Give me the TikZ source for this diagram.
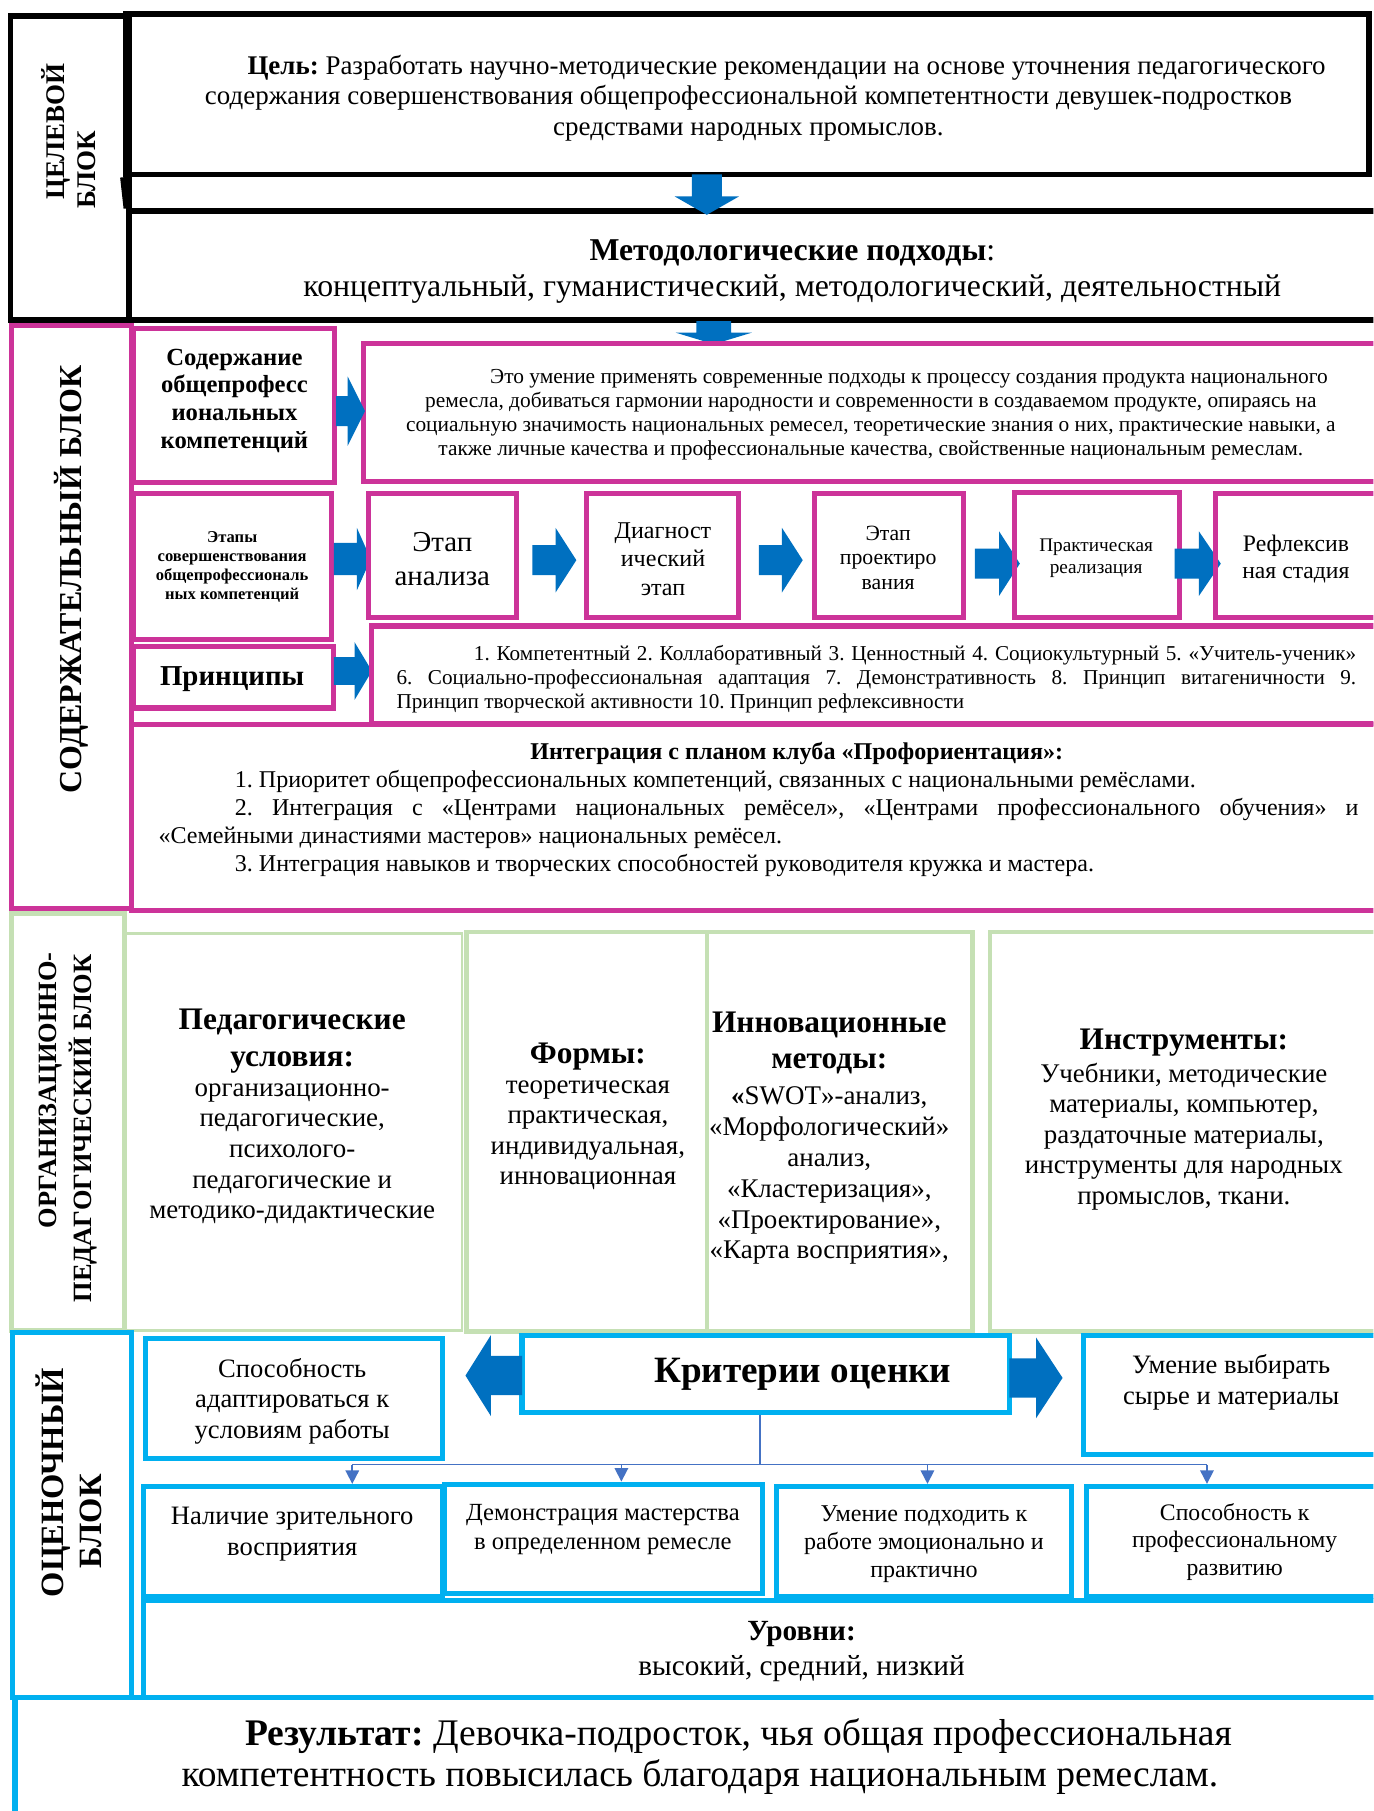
\documentclass[tikz,border=0pt]{standalone}
\usepackage{fontspec}
\setmainfont{Liberation Serif}
\usetikzlibrary{fit,arrows.meta}
\definecolor{mag}{RGB}{204,51,153}
\definecolor{grn}{RGB}{197,224,180}
\definecolor{cyn}{RGB}{0,176,240}
\definecolor{ablue}{RGB}{0,112,192}
\definecolor{cblue}{RGB}{68,114,196}
\frenchspacing
\newcommand{\uu}[1]{\dimexpr #1pt*3/5\relax}
\newcommand{\fs}[2]{\fontsize{#1}{#2}\selectfont}
% right/left block arrow: tail x, tip x, centre y, shaft half, head half, head base x
\newcommand{\harr}[6]{\fill[ablue] (#1,#3-#4) -- (#6,#3-#4) -- (#6,#3-#5) -- (#2,#3) -- (#6,#3+#5) -- (#6,#3+#4) -- (#1,#3+#4) -- cycle;}
% down block arrow: tail y, tip y, centre x, shaft half, head half, head base y
\newcommand{\varr}[6]{\fill[ablue] (#3-#4,#1) -- (#3-#4,#6) -- (#3-#5,#6) -- (#3,#2) -- (#3+#5,#6) -- (#3+#4,#6) -- (#3+#4,#1) -- cycle;}
\tikzset{
  blkbox/.style={draw=black, line width=3pt, inner sep=0pt},
  magbox/.style={draw=mag, line width=2.6pt, inner sep=0pt},
  grnbox/.style={draw=grn, line width=2.4pt, inner sep=0pt},
  grnthin/.style={draw=grn, line width=1.4pt, inner sep=0pt},
  cynbox/.style={draw=cyn, line width=2.7pt, inner sep=0pt},
  txt/.style={align=center, inner sep=0pt},
  side/.style={rotate=90, inner sep=0pt, font=\bfseries},
  conn/.style={draw=cblue, line width=0.9pt},
}
\begin{document}
\begin{tikzpicture}[x=0.6pt,y=-0.6pt]
\useasboundingbox (0,0) rectangle (1189,1568);
\clip (0,0) rectangle (1189,1568);
\fill[white] (0,0) rectangle (1189,1568);

% ===== ЦЕЛЕВОЙ БЛОК =====
\node[blkbox, fit={(9,14) (112,277)}] (tsel) {};
\node[blkbox, fit={(109,12) (1185,151)}] (goal) {};
\node[blkbox, fit={(112,183) (1205,277)}] (meth) {};
\draw[black, line width=3pt] (goal.south west) -- (meth.north west);
\node[side, font=\bfseries\fs{14pt}{16pt}] (tl1) at (48,114) {ЦЕЛЕВОЙ};
\node[side, font=\bfseries\fs{14pt}{16pt}] (tl2) at (75,147) {БЛОК};
\node[txt, font=\fs{14pt}{15.9pt}] (goaltxt) at (648,85) {\hspace*{\uu{66}}\textbf{Цель:} Разработать научно-методические рекомендации на основе уточнения педагогического\\содержания совершенствования общепрофессиональной компетентности девушек-подростков\\средствами народных промыслов.};
\node[txt, font=\fs{16.5pt}{18.6pt}] (methtxt) at (686,235) {\textbf{Методологические подходы}:\\концептуальный, гуманистический, методологический, деятельностный};
\varr{151}{186}{612}{13}{28}{170}
\varr{278}{298}{618}{15}{33}{288}

% ===== СОДЕРЖАТЕЛЬНЫЙ БЛОК =====
\node[magbox, fit={(10,282) (114,787)}] (soder) {};
\node[side, font=\bfseries\fs{16.6pt}{18pt}] (sl) at (62,502) {СОДЕРЖАТЕЛЬНЫЙ БЛОК};
\node[magbox, fit={(116,284) (290,418)}] (sod) {};
\node[txt, font=\bfseries\fs{12.8pt}{14.4pt}] (sodt) at (203,347) {Содержание\\общепрофесс\\иональных\\компетенций};
\node[magbox, fit={(315,297) (1205,417)}] (def) {};
\node[txt, font=\fs{11.1pt}{12.6pt}] (deft) at (754,359) {\hspace*{\uu{66}}Это умение применять современные подходы к процессу создания продукта национального\\ремесла, добиваться гармонии народности и современности в создаваемом продукте, опираясь на\\социальную значимость национальных ремесел, теоретические знания о них, практические навыки, а\\также личные качества и профессиональные качества, свойственные национальным ремеслам.};
\harr{291}{316}{356}{13}{30}{301}

\node[magbox, fit={(116,427) (287,554)}] (etap) {};
\node[txt, font=\bfseries\fs{8.6pt}{9.8pt}] (etapt) at (201,491) {Этапы\\совершенствования\\общепрофессиональ\\ных компетенций};
\harr{289}{321}{484}{14}{27}{309}
\node[magbox, fit={(319,427) (447,535)}] (s1) {};
\node[txt, font=\fs{15pt}{18pt}] (s1t) at (383,484) {Этап\\анализа};
\harr{461}{499}{485}{13}{28}{481}
\node[magbox, fit={(508,427) (639,535)}] (s2) {};
\node[txt, font=\fs{12.5pt}{14.7pt}] (s2t) at (574,484) {Диагност\\ический\\этап};
\harr{657}{695}{485}{13}{28}{677}
\node[magbox, fit={(705,427) (834,535)}] (s3) {};
\node[txt, font=\fs{11.3pt}{12.9pt}] (s3t) at (769,483) {Этап\\проектиро\\вания};
\harr{844}{883}{488}{13}{28}{865}
\node[magbox, fit={(878,426) (1021,535)}] (s4) {};
\node[txt, font=\fs{10pt}{11.4pt}] (s4t) at (949,483) {Практическая\\реализация};
\harr{1017}{1057}{488}{13}{28}{1038}
\node[magbox, fit={(1052,427) (1205,535)}] (s5) {};
\node[txt, font=\fs{12.3pt}{14.4pt}] (s5t) at (1122,484) {Рефлексив\\ная стадия};

\node[magbox, fit={(116,560) (289,613)}] (prin) {};
\node[txt, font=\bfseries\fs{15pt}{17pt}] (print) at (201,588) {Принципы};
\harr{289}{322}{581}{12}{25}{307}
\node[magbox, fit={(322,542) (1205,626)}] (prbox) {};
\node[txt, font=\fs{11pt}{12.6pt}, align=left, anchor=west] (prt) at (343,588) {\makebox[\uu{831}][s]{\hspace*{\uu{67}}1. Компетентный 2. Коллаборативный 3. Ценностный 4. Социокультурный 5. «Учитель-ученик»}\\\makebox[\uu{831}][s]{6. Социально-профессиональная адаптация 7. Демонстративность 8. Принцип витагеничности 9.}\\Принцип творческой активности 10. Принцип рефлексивности};

\node[magbox, fit={(114,627) (1205,788)}] (integ) {};
\node[txt, font=\fs{12.5pt}{14.5pt}, align=left, anchor=west] (integt) at (137,701) {\makebox[\uu{1039}][c]{\hspace*{\uu{66}}\textbf{Интеграция с планом клуба «Профориентация»:}}\\\hspace*{\uu{66}}1. Приоритет общепрофессиональных компетенций, связанных с национальными ремёслами.\\\makebox[\uu{1039}][s]{\hspace*{\uu{66}}2. Интеграция с «Центрами национальных ремёсел», «Центрами профессионального обучения» и}\\«Семейными династиями мастеров» национальных ремёсел.\\\hspace*{\uu{66}}3. Интеграция навыков и творческих способностей руководителя кружка и мастера.};

% ===== ОРГАНИЗАЦИОННО-ПЕДАГОГИЧЕСКИЙ БЛОК =====
\node[grnbox, fit={(10,791) (108,1152)}] (org) {};
\node[side, font=\bfseries\fs{13.7pt}{16pt}] (ol1) at (44,944) {ОРГАНИЗАЦИОННО-};
\node[side, font=\bfseries\fs{13.7pt}{16pt}] (ol2) at (72,977) {ПЕДАГОГИЧЕСКИЙ БЛОК};
\node[grnthin, fit={(109,808) (400,1152)}] (ped) {};
\node[txt, font=\bfseries\fs{16.3pt}{19.2pt}] (pedh) at (253,901) {Педагогические\\условия:};
\node[txt, font=\fs{14pt}{15.9pt}] (pedb) at (253,999) {организационно-\\педагогические,\\психолого-\\педагогические и\\методико-дидактические};
\node[grnbox, fit={(404,807) (612,1153)}] (form) {};
\node[txt, font=\bfseries\fs{16.3pt}{19.2pt}] (formh) at (509,915) {Формы:};
\node[txt, font=\fs{14pt}{15.8pt}] (formb) at (509,983) {теоретическая\\практическая,\\индивидуальная,\\инновационная};
\node[txt, font=\bfseries\fs{16.3pt}{19.2pt}] (innh) at (718,903) {Инновационные\\методы:};
\node[txt, font=\fs{14pt}{16pt}] (innb) at (718,1018) {\textbf{«}SWOT»-анализ,\\«Морфологический»\\анализ,\\«Кластеризация»,\\«Проектирование»,\\«Карта восприятия»,};
\node[grnbox, fit={(612,807) (842,1153)}] (inn) {};
\node[grnbox, fit={(857,807) (1205,1153)}] (instr) {};
\node[txt, font=\bfseries\fs{16.3pt}{19.2pt}] (instrh) at (1025,903) {Инструменты:};
\node[txt, font=\fs{14pt}{15.9pt}] (instrb) at (1025,984) {Учебники, методические\\материалы, компьютер,\\раздаточные материалы,\\инструменты для народных\\промыслов, ткани.};

% ===== ОЦЕНОЧНЫЙ БЛОК =====
\node[cynbox, fit={(11,1154) (114,1470)}] (ots) {};
\node[side, font=\bfseries\fs{16.9pt}{18pt}] (otl1) at (46,1284) {ОЦЕНОЧНЫЙ};
\node[side, font=\bfseries\fs{16.9pt}{18pt}] (otl2) at (79,1317) {БЛОК};
\node[cynbox, fit={(126,1159) (383,1263)}] (adapt) {};
\node[txt, font=\fs{13.8pt}{15.9pt}] (adaptt) at (253,1213) {Способность\\адаптироваться к\\условиям работы};
\node[cynbox, fit={(452,1156) (874,1223)}] (crit) {};
\node[txt, font=\bfseries\fs{19.3pt}{21pt}] (critt) at (695,1190) {Критерии оценки};
\harr{452}{403}{1191}{17}{35}{425}
\harr{874}{920}{1193}{17}{35}{897}
\node[cynbox, fit={(938,1156) (1205,1259)}] (vyb) {};
\node[txt, font=\fs{13.8pt}{16.2pt}] (vybt) at (1066,1197) {Умение выбирать\\сырье и материалы};

\node[cynbox, fit={(124,1287) (383,1382)}] (nal) {};
\node[txt, font=\fs{13.8pt}{16.2pt}] (nalt) at (253,1328) {Наличие зрительного\\восприятия};
\node[cynbox, fit={(385,1285) (660,1380)}] (dem) {};
\node[txt, font=\fs{12.8pt}{15pt}] (demt) at (522,1324) {Демонстрация мастерства\\в определенном ремесле};
\node[cynbox, fit={(672,1287) (928,1382)}] (podh) {};
\node[txt, font=\fs{12.5pt}{14.7pt}] (podht) at (800,1337) {Умение подходить к\\работе эмоционально и\\практично};
\node[cynbox, fit={(941,1287) (1205,1382)}] (razv) {};
\node[txt, font=\fs{12.3pt}{14.4pt}] (razvt) at (1069,1335) {Способность к\\профессиональному\\развитию};

\coordinate (cj) at (658,1268);
\coordinate (c1) at (305,1268);
\coordinate (c2) at (538,1268);
\coordinate (c3) at (803,1268);
\coordinate (c4) at (1045,1268);
\draw[conn] (crit.south -| cj) -- (cj);
\draw[conn] (c1) -- (c4);
\draw[conn, -{Triangle[length=7pt,width=7pt]}] (c1) -- (c1 |- nal.north);
\draw[conn, -{Triangle[length=7pt,width=7pt]}] (c2) -- (c2 |- dem.north);
\draw[conn, -{Triangle[length=7pt,width=7pt]}] (c3) -- (c3 |- podh.north);
\draw[conn, -{Triangle[length=7pt,width=7pt]}] (c4) -- (c4 |- razv.north);

\node[cynbox, fit={(124,1386) (1205,1470)}] (lev) {};
\node[txt, font=\bfseries\fs{15.2pt}{17pt}] (levh) at (694,1415) {Уровни:};
\node[txt, font=\fs{15.2pt}{17pt}] (levb) at (694,1445) {высокий, средний, низкий};

\node[cynbox, fit={(13,1470) (1205,1600)}] (res) {};
\node[txt, font=\fs{19.5pt}{21.6pt}] (rest) at (606,1521) {\hspace*{\uu{67}}\textbf{Результат:} Девочка-подросток, чья общая профессиональная\\компетентность повысилась благодаря национальным ремеслам.};
\end{tikzpicture}
\end{document}
